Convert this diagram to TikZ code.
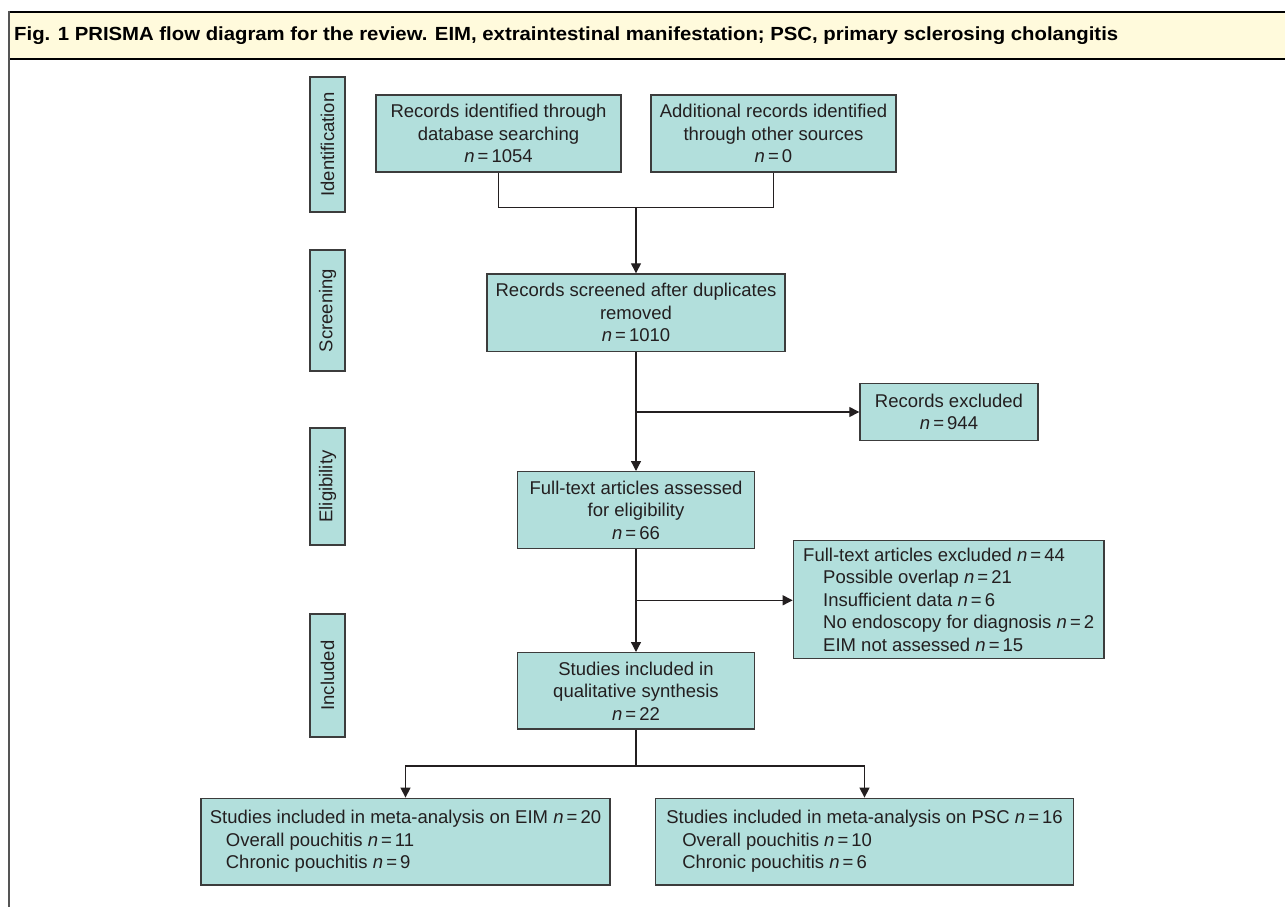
\documentclass[tikz,border=0pt]{standalone}
\usepackage{fontspec}
\setmainfont{Liberation Sans}
\usetikzlibrary{arrows.meta}
\definecolor{boxfill}{RGB}{178,223,220}
\definecolor{boxline}{RGB}{60,60,60}
\definecolor{txt}{RGB}{35,31,32}
\definecolor{hdrfill}{RGB}{255,250,220}
\definecolor{sideline}{RGB}{85,85,85}
\newsavebox\hdrbox
\newcommand\nv[1]{\textit{n}\,=\,#1}
\newcommand\ind{\hspace*{20pt}}
\begin{document}
\sbox\hdrbox{\fontsize{19}{21}\selectfont\bfseries Fig. 1 PRISMA flow diagram for the review. EIM, extraintestinal manifestation; PSC, primary sclerosing cholangitis}
\pgfmathsetmacro\hx{1104/\the\wd\hdrbox}
\begin{tikzpicture}[x=1pt,y=-1pt,
  box/.style={draw=boxline, line width=1.4pt, fill=boxfill, text=txt, inner sep=0pt,
    align=center, font=\fontsize{18.5}{22.5}\selectfont},
  listbox/.style={box, align=left},
  stagebox/.style={box, rotate=90, minimum height=35pt},
  conn/.style={draw=txt, line width=1.3pt},
  arr/.style={conn, -{Triangle[length=10pt,width=10pt]}}]
\useasboundingbox (0,0) rectangle (1285,907);
% frame
\fill[hdrfill] (9,12) rectangle (1285,59);
\draw[line width=2pt, black] (9,12) -- (1285,12);
\draw[line width=2pt, black] (9,59) -- (1285,59);
\draw[line width=2.5pt, sideline] (9,11) -- (9,907);
\node[anchor=west, inner sep=0pt, text=txt] (hdr) at (14,36) {\scalebox{\hx}[1]{\usebox\hdrbox}};
% stage labels
\node[stagebox, minimum width=135pt] (sid) at (327.5,144.5) {Identification};
\node[stagebox, minimum width=121pt] (sscr) at (327.5,310.5) {Screening};
\node[stagebox, minimum width=117pt] (seli) at (327.5,486.5) {Eligibility};
\node[stagebox, minimum width=123pt] (sinc) at (327.5,675.5) {Included};
% boxes
\node[box, minimum width=245pt, minimum height=77pt] (rec1) at (498.5,133.5)
  {Records identified through\\database searching\\\nv{1054}};
\node[box, minimum width=245pt, minimum height=77pt] (rec2) at (773.5,133.5)
  {Additional records identified\\through other sources\\\nv{0}};
\node[box, minimum width=298pt, minimum height=77.5pt] (scr) at (636,312.75)
  {Records screened after duplicates\\removed\\\nv{1010}};
\node[box, minimum width=178pt, minimum height=56.5pt] (excl) at (949,412)
  {Records excluded\\\nv{944}};
\node[box, minimum width=237pt, minimum height=76.6pt] (full) at (636,510)
  {Full-text articles assessed\\for eligibility\\\nv{66}};
\node[listbox, minimum width=310.7pt, minimum height=118pt] (fullex) at (948.7,599.5)
  {Full-text articles excluded \nv{44}\\
   \ind Possible overlap \nv{21}\\
   \ind Insufficient data \nv{6}\\
   \ind No endoscopy for diagnosis \nv{2}\\
   \ind EIM not assessed \nv{15}};
\node[box, minimum width=237pt, minimum height=76.3pt] (qual) at (636,690.85)
  {Studies included in\\qualitative synthesis\\\nv{22}};
\node[listbox, minimum width=409.3pt, minimum height=86.7pt] (eim) at (405.5,841.65)
  {Studies included in meta-analysis on EIM \nv{20}\\
   \hspace*{16pt}Overall pouchitis \nv{11}\\
   \hspace*{16pt}Chronic pouchitis \nv{9}};
\node[listbox, minimum width=417.6pt, minimum height=86.7pt] (psc) at (864.5,841.65)
  {Studies included in meta-analysis on PSC \nv{16}\\
   \hspace*{16pt}Overall pouchitis \nv{10}\\
   \hspace*{16pt}Chronic pouchitis \nv{6}};
% junctions
\coordinate (j1) at (636,207.3);
\coordinate (b1) at (636,412);
\coordinate (b2) at (636,600.3);
\coordinate (j2) at (636,766);
% connectors
\draw[conn] (rec1.south) |- (j1) -| (rec2.south);
\draw[arr] (j1) -- (scr.north);
\draw[arr] (scr.south) -- (full.north);
\draw[arr] (b1) -- (excl.west);
\draw[arr] (full.south) -- (qual.north);
\draw[arr] (b2) -- (fullex.west |- b2);
\draw[conn] (qual.south) -- (j2);
\draw[arr] (j2) -| (eim.north);
\draw[arr] (j2) -| (psc.north);
\end{tikzpicture}
\end{document}
